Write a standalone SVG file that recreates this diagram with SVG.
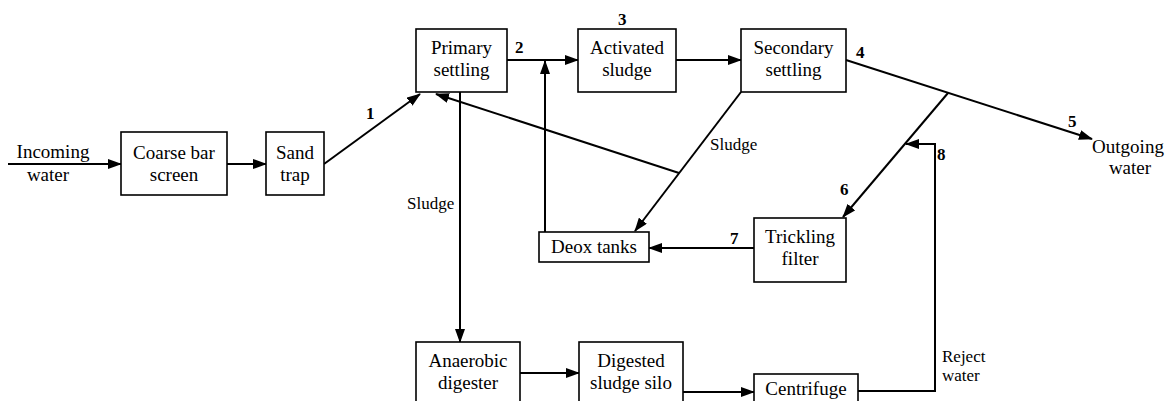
<svg xmlns="http://www.w3.org/2000/svg" width="1165" height="401" viewBox="0 0 1165 401">
<defs>
<style>
.box{fill:#fff;stroke:#000;stroke-width:1.6}
.t{font-size:19px;fill:#000;text-anchor:middle}
.s{font-size:17px;fill:#000}
.n{font-size:17px;font-weight:bold;fill:#000}
.c{fill:none;stroke:#000;stroke-width:2}
</style>
<marker id="ah" markerWidth="14" markerHeight="10" refX="13" refY="5" orient="auto" markerUnits="userSpaceOnUse">
<path d="M0,0 L14,5 L0,10 Z" fill="#000"/>
</marker>
</defs>
<rect width="1165" height="401" fill="#fff"/>
<g font-family="Liberation Serif, Times New Roman, serif">
<g id="connectors">
<line class="c" x1="8" y1="164" x2="121" y2="164" marker-end="url(#ah)"/>
<line class="c" x1="227" y1="164" x2="266" y2="164" marker-end="url(#ah)"/>
<line class="c" x1="324" y1="164" x2="420" y2="94" marker-end="url(#ah)"/>
<line class="c" x1="507" y1="60" x2="578" y2="60" marker-end="url(#ah)"/>
<line class="c" x1="676" y1="60" x2="741" y2="60" marker-end="url(#ah)"/>
<line class="c" x1="846" y1="60" x2="1092" y2="139" marker-end="url(#ah)"/>
<line class="c" x1="948" y1="93" x2="843" y2="217" marker-end="url(#ah)"/>
<line class="c" x1="741" y1="92" x2="635" y2="231" marker-end="url(#ah)"/>
<line class="c" x1="679" y1="173" x2="436" y2="94" marker-end="url(#ah)"/>
<line class="c" x1="545" y1="232" x2="545" y2="61" marker-end="url(#ah)"/>
<line class="c" x1="754" y1="248" x2="649" y2="248" marker-end="url(#ah)"/>
<line class="c" x1="460" y1="92" x2="460" y2="342" marker-end="url(#ah)"/>
<line class="c" x1="520" y1="373" x2="579" y2="373" marker-end="url(#ah)"/>
<line class="c" x1="683" y1="392" x2="754" y2="392" marker-end="url(#ah)"/>
<polyline class="c" points="858,391 935,391 935,144 906,144" marker-end="url(#ah)"/>
</g>
<g id="labels">
<text class="t" x="53" y="158">Incoming</text>
<text class="t" x="48" y="181">water</text>
<text class="t" x="1128" y="153">Outgoing</text>
<text class="t" x="1130" y="174">water</text>
<text class="n" x="366" y="119">1</text>
<text class="n" x="515" y="53">2</text>
<text class="n" x="618" y="25">3</text>
<text class="n" x="856" y="58">4</text>
<text class="n" x="1068" y="127">5</text>
<text class="n" x="840" y="195">6</text>
<text class="n" x="730" y="244">7</text>
<text class="n" x="937" y="160">8</text>
<text class="s" x="710" y="150">Sludge</text>
<text class="s" x="407" y="209">Sludge</text>
<text class="s" x="942" y="362">Reject</text>
<text class="s" x="942" y="381">water</text>
</g>
<g id="coarse-bar-screen">
<rect class="box" x="121" y="132" width="106" height="63"/>
<text class="t" x="174" y="159">Coarse bar</text>
<text class="t" x="174" y="181">screen</text>
</g>
<g id="sand-trap">
<rect class="box" x="266" y="132" width="58" height="63"/>
<text class="t" x="295" y="159">Sand</text>
<text class="t" x="295" y="181">trap</text>
</g>
<g id="primary-settling">
<rect class="box" x="416" y="29" width="91" height="63"/>
<text class="t" x="461.5" y="54">Primary</text>
<text class="t" x="461.5" y="76">settling</text>
</g>
<g id="activated-sludge">
<rect class="box" x="578" y="29" width="98" height="63"/>
<text class="t" x="627" y="54">Activated</text>
<text class="t" x="627" y="76">sludge</text>
</g>
<g id="secondary-settling">
<rect class="box" x="741" y="29" width="105" height="63"/>
<text class="t" x="793.5" y="54">Secondary</text>
<text class="t" x="793.5" y="76">settling</text>
</g>
<g id="deox-tanks">
<rect class="box" x="539" y="232" width="110" height="30"/>
<text class="t" x="594" y="253">Deox tanks</text>
</g>
<g id="trickling-filter">
<rect class="box" x="754" y="218" width="92" height="64"/>
<text class="t" x="800" y="243">Trickling</text>
<text class="t" x="800" y="265">filter</text>
</g>
<g id="anaerobic-digester">
<rect class="box" x="416" y="342" width="104" height="70"/>
<text class="t" x="468" y="367">Anaerobic</text>
<text class="t" x="468" y="389">digester</text>
</g>
<g id="digested-sludge-silo">
<rect class="box" x="579" y="342" width="104" height="70"/>
<text class="t" x="631" y="367">Digested</text>
<text class="t" x="631" y="389">sludge silo</text>
</g>
<g id="centrifuge">
<rect class="box" x="754" y="374" width="104" height="40"/>
<text class="t" x="806" y="395">Centrifuge</text>
</g>
</g>
</svg>
